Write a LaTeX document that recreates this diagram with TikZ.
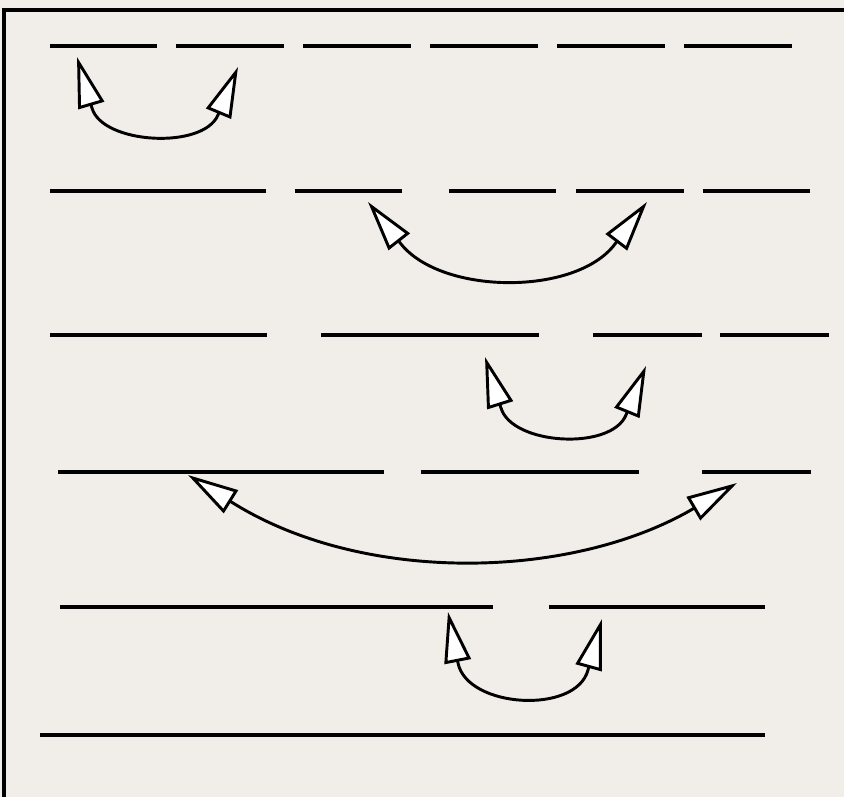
\documentclass[tikz,border=0pt]{standalone}
\usetikzlibrary{arrows.meta}
\definecolor{paper}{RGB}{241,238,233}
\tikzset{
  blank/.style={line width=2.3pt},
  swap/.style={line width=2.2pt,
    {Triangle[fill=white, length=38pt, width=20pt]}-{Triangle[fill=white, length=38pt, width=20pt]}},
}
\begin{document}
\begin{tikzpicture}[x=0.75pt, y=-0.75pt]
    \fill[paper] (0,0) rectangle (844,797);
    \useasboundingbox (0,0) rectangle (844,797);
    \draw[line width=2.3pt] (4,797) -- (4,10) -- (844,10);
    % blanks, one row per line of the page
    \foreach \a/\b/\y in {50/157/46, 176/284/46, 303/411/46, 430/538/46, 557/665/46, 684/792/46,
                          50/266/191, 295/402/191, 449/556/191, 576/684/191, 703/810/191,
                          50/267/335, 321/539/335, 593/702/335, 720/829/335,
                          58/384/472, 421/639/472, 702/811/472,
                          60/493/607, 549/765/607,
                          40/765/735}
        \draw[blank] (\a,\y) -- (\b,\y);
    % tips and backs of the swaps
    \coordinate (s1) at (77,57);   \coordinate (b1) at (92,108);
    \coordinate (t1) at (238,67);  \coordinate (c1) at (218,115);
    \coordinate (s2) at (368,202); \coordinate (b2) at (401,244);
    \coordinate (t2) at (647,202); \coordinate (c2) at (615,244);
    \coordinate (s3) at (485,357); \coordinate (b3) at (501,408);
    \coordinate (t3) at (646,366); \coordinate (c3) at (626,415);
    \coordinate (s4) at (188,475); \coordinate (b4) at (233,503);
    \coordinate (t4) at (737,483); \coordinate (c4) at (691,510);
    \coordinate (s5) at (448,612); \coordinate (b5) at (458,663);
    \coordinate (t5) at (602,619); \coordinate (c5) at (588,670);
    \draw[swap] (s1) -- (b1) .. controls +(10,36) and +(-15,35) .. (c1) -- (t1);
    \draw[swap] (s2) -- (b2) .. controls +(41,51) and +(-39,52) .. (c2) -- (t2);
    \draw[swap] (s3) -- (b3) .. controls +(11,37) and +(-15,36) .. (c3) -- (t3);
    \draw[swap] (s4) -- (b4) .. controls +(130,81) and +(-122,70) .. (c4) -- (t4);
    \draw[swap] (s5) -- (b5) .. controls +(9,45) and +(-12,45) .. (c5) -- (t5);
\end{tikzpicture}
\end{document}
